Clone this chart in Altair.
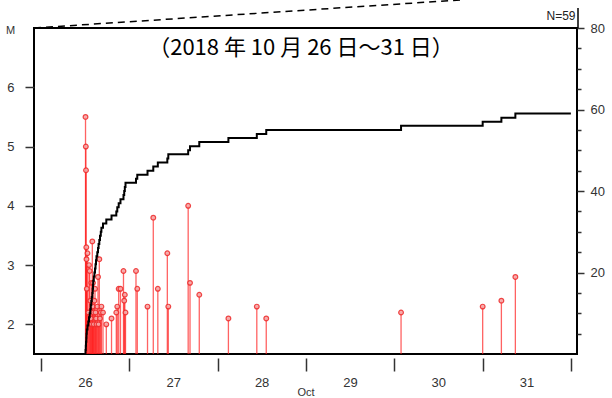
import altair as alt
import pandas as pd

# Earthquake list, 26-31 Oct 2018 (local time, magnitude)
times = [
    "2018-10-26 12:06", "2018-10-26 12:11", "2018-10-26 12:14", "2018-10-26 12:19",
    "2018-10-26 12:22", "2018-10-26 12:27", "2018-10-26 12:38", "2018-10-26 12:51",
    "2018-10-26 13:03", "2018-10-26 13:14", "2018-10-26 13:24", "2018-10-26 13:32",
    "2018-10-26 13:40", "2018-10-26 13:48", "2018-10-26 13:57", "2018-10-26 14:03",
    "2018-10-26 14:08", "2018-10-26 14:11", "2018-10-26 14:21", "2018-10-26 14:31",
    "2018-10-26 14:41", "2018-10-26 14:49", "2018-10-26 14:57", "2018-10-26 15:05",
    "2018-10-26 15:18", "2018-10-26 15:30", "2018-10-26 15:39", "2018-10-26 15:51",
    "2018-10-26 16:02", "2018-10-26 16:15", "2018-10-26 16:25", "2018-10-26 16:51",
    "2018-10-26 17:45", "2018-10-26 19:10", "2018-10-26 20:28", "2018-10-26 20:44",
    "2018-10-26 21:07", "2018-10-26 21:36", "2018-10-26 22:25", "2018-10-26 22:37",
    "2018-10-26 22:47", "2018-10-26 22:58", "2018-10-27 01:49", "2018-10-27 02:10",
    "2018-10-27 04:57", "2018-10-27 06:31", "2018-10-27 07:45", "2018-10-27 10:20",
    "2018-10-27 10:36", "2018-10-27 16:00", "2018-10-27 16:30", "2018-10-27 19:01",
    "2018-10-28 02:56", "2018-10-28 10:39", "2018-10-28 13:13", "2018-10-30 01:51",
    "2018-10-31 00:02", "2018-10-31 05:07", "2018-10-31 08:55",
]
mags = [
    5.5, 5.0, 4.6, 3.3, 3.1, 2.6, 3.2, 2.2, 3.0, 2.9,
    2.4, 2.1, 2.7, 2.0, 3.4, 2.3, 2.7, 2.2, 2.0, 2.4,
    2.6, 2.2, 2.1, 2.0, 2.3, 2.8, 2.0, 3.1, 2.1, 2.2,
    2.3, 2.2, 2.0, 2.1, 2.2, 2.3, 2.6, 2.6, 2.9, 2.4,
    2.5, 2.2, 2.9, 2.6, 2.3, 3.8, 2.6, 3.2, 2.3, 4.0,
    2.7, 2.5, 2.1, 2.3, 2.1, 2.2, 2.3, 2.4, 2.8,
]
day_ticks = [(10, 26), (10, 27), (10, 28), (10, 29), (10, 30), (10, 31), (11, 1)]
count_ticks = list(range(5, 81, 5))
title_text = "（2018 年 10 月 26 日～31 日）"
count_note = "N=59"
cum_end = "2018-11-01 00:00"

events = pd.DataFrame({"t": pd.to_datetime(times), "M": mags})
events["base"] = 1.5

ordered = events.sort_values("t").reset_index(drop=True)
cum = pd.DataFrame({
    "t": [ordered["t"].iloc[0]] + list(ordered["t"]) + [pd.Timestamp(cum_end)],
    "N": [0] + list(range(1, len(ordered) + 1)) + [len(ordered)],
})

LABEL_FONT = "Liberation Sans"

x_scale = alt.Scale(domain=[
    alt.DateTime(year=2018, month=10, date=25, hours=22, minutes=6),
    alt.DateTime(year=2018, month=11, date=1, hours=1, minutes=40),
])
x_axis = alt.Axis(
    values=[alt.DateTime(year=2018, month=m, date=d) for m, d in day_ticks],
    labelExpr="date(datum.value) == 1 ? '' : timeFormat(datum.value, '%d')",
    labelOffset=44, tickSize=13, offset=4, domain=False, grid=False,
    labelPadding=5, labelFontSize=13, title="Oct", titleFontSize=11,
    titleFontWeight="normal", titlePadding=-3,
)
x = alt.X("t:T", scale=x_scale, axis=x_axis)

m_scale = alt.Scale(domain=[1.5, 7.0], nice=False, zero=False)
m_axis = alt.Axis(
    values=[2, 3, 4, 5, 6], tickSize=9, labelPadding=11, domain=False, grid=False,
    title="M", titleAngle=0, titleX=-24, titleY=2, titleAlign="center",
    titleBaseline="middle", titleFontSize=11, titleFontWeight="normal",
)

stems = alt.Chart(events).mark_rule(color="#ff2020", strokeWidth=1.3, opacity=0.7).encode(
    x=x,
    y=alt.Y("M:Q", scale=m_scale, axis=m_axis),
    y2="base:Q",
)
heads = alt.Chart(events).mark_point(
    shape="circle", filled=True, fill="#f7a8a8", stroke="#ee3030",
    strokeWidth=1.2, size=22, opacity=0.9,
).encode(x=x, y=alt.Y("M:Q", scale=m_scale, axis=None))

n_axis = alt.Axis(
    orient="right", values=count_ticks,
    labelExpr="datum.value % 20 === 0 ? datum.value : ''",
    tickSize={"condition": {"test": "datum.value % 20 === 0", "value": 7}, "value": 4},
    labelPadding=6, domain=False, grid=False, title=None,
)
cum_line = alt.Chart(cum).mark_line(
    interpolate="step-after", color="black", strokeWidth=2
).encode(
    x=x,
    y=alt.Y("N:Q", scale=alt.Scale(domain=[0, 80], nice=False), axis=n_axis),
)

heading = alt.Chart().mark_text(
    font="Noto Sans CJK JP", fontSize=22, color="black", align="center", baseline="middle"
).encode(x=alt.value(267), y=alt.value(20), text=alt.value(title_text))

note = alt.Chart().mark_text(
    font=LABEL_FONT, fontSize=12, color="#222", align="center", baseline="middle"
).encode(x=alt.value(527), y=alt.value(-12), text=alt.value(count_note))

guide_dash = alt.Chart().mark_rule(color="black", strokeWidth=1.5, strokeDash=[7, 5]).encode(
    x=alt.value(0), y=alt.value(0), x2=alt.value(426), y2=alt.value(-28)
)
guide_tick = alt.Chart().mark_rule(color="black", strokeWidth=1.5).encode(
    x=alt.value(544), y=alt.value(-20), y2=alt.value(0)
)

chart = alt.layer(
    stems, heads, cum_line, heading, note, guide_dash, guide_tick
).resolve_scale(y="independent").properties(
    width=543, height=326,
    autosize=alt.AutoSizeParams(type="none"),
    padding={"left": 34, "top": 28, "right": 35, "bottom": 44},
).configure_view(
    stroke="black", strokeWidth=2
).configure_axis(
    labelFont=LABEL_FONT, labelFontSize=13, labelColor="#333",
    titleFont=LABEL_FONT, titleColor="#333", tickColor="#333", tickWidth=1.5,
)

chart.save("out.html", embed_options={"renderer": "svg", "actions": False})
